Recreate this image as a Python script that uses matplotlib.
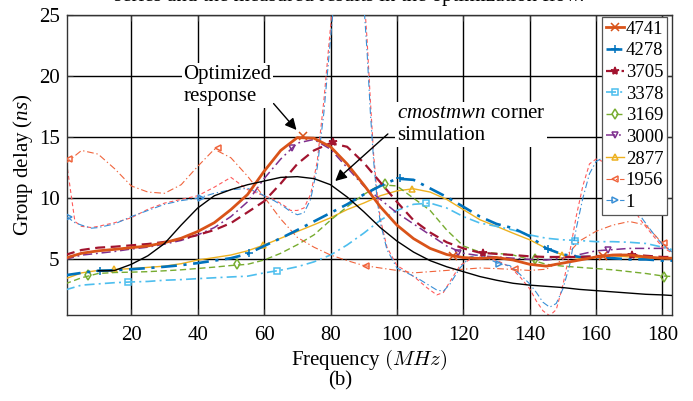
import matplotlib
matplotlib.use("Agg")
import matplotlib.pyplot as plt
from matplotlib.lines import Line2D

plt.rcParams['font.family'] = ['Liberation Serif', 'DejaVu Serif']
plt.rcParams['mathtext.fontset'] = 'custom'
plt.rcParams['mathtext.rm'] = 'Liberation Serif'
plt.rcParams['mathtext.it'] = 'Liberation Serif:italic'

# ---------------- data ----------------
freq = [0, 5, 10, 15, 20, 25, 30, 35, 40, 45, 50, 55, 60, 65, 70, 75, 80, 85, 90,
        95, 100, 105, 110, 115, 120, 125, 130, 135, 140, 145, 150, 155, 160, 165,
        170, 175, 180, 183]

gd_4741 = [5.1, 5.5, 5.7, 5.82, 5.96, 6.1, 6.37, 6.73, 7.28, 8.0, 9.07, 10.3, 12.2, 13.9,
           14.95, 14.9, 14.2, 12.8, 11.1, 9.3, 7.8, 6.7, 5.9, 5.4, 5.15, 5.08, 5.16, 4.95,
           4.6, 4.45, 4.7, 4.95, 5.2, 5.36, 5.36, 5.2, 5.1, 5.1]
gd_4278 = [3.7, 3.9, 4.07, 4.12, 4.2, 4.29, 4.4, 4.53, 4.7, 4.9, 5.1, 5.45, 6.1, 6.73,
           7.4, 8.1, 8.8, 9.5, 10.3, 11.0, 11.6, 11.5, 10.8, 10.1, 9.3, 8.5, 7.9, 7.55,
           6.9, 5.9, 5.4, 5.2, 5.2, 5.1, 5.0, 5.0, 4.9, 4.9]
gd_3705 = [5.36, 5.77, 5.96, 6.04, 6.15, 6.26, 6.43, 6.65, 7.0, 7.4, 7.97, 8.85, 9.75,
           11.2, 12.8, 13.9, 14.5, 14.2, 12.9, 11.3, 9.7, 8.2, 7.2, 6.4, 5.9, 5.55, 5.45,
           5.36, 5.25, 5.2, 5.2, 5.2, 5.27, 5.35, 5.4, 5.3, 5.2, 5.2]
gd_3378 = [2.5, 2.9, 3.0, 3.1, 3.16, 3.2, 3.3, 3.35, 3.43, 3.5, 3.57, 3.63, 3.9, 4.12,
           4.4, 4.8, 5.36, 6.18, 7.14, 8.2, 9.0, 9.5, 9.6, 9.2, 8.5, 7.97, 7.7, 7.4, 7.0,
           6.73, 6.6, 6.54, 6.45, 6.45, 6.4, 6.3, 6.0, 5.8]
gd_3169 = [3.0, 3.5, 3.85, 3.93, 3.96, 4.0, 4.07, 4.15, 4.26, 4.37, 4.5, 4.6, 4.95, 5.5,
           6.2, 7.0, 8.2, 9.3, 10.3, 11.1, 11.0, 10.0, 9.0, 7.4, 6.1, 5.6, 5.5, 5.36, 5.0,
           4.6, 4.45, 4.35, 4.25, 4.15, 4.0, 3.85, 3.65, 3.6]
gd_3000 = [5.0, 5.35, 5.5, 5.65, 5.85, 6.0, 6.25, 6.55, 7.0, 7.6, 8.5, 9.7, 11.6, 13.2,
           14.5, 14.8, 14.0, 12.5, 11.0, 9.9, 8.8, 7.9, 7.0, 6.1, 5.5, 5.3, 5.2, 5.1, 5.0,
           4.95, 5.1, 5.4, 5.7, 5.8, 5.9, 5.9, 5.9, 5.9]
gd_2877 = [3.4, 3.9, 4.1, 4.18, 4.25, 4.35, 4.45, 4.65, 4.95, 5.15, 5.36, 5.7, 6.18,
           6.73, 7.28, 7.83, 8.4, 9.07, 9.6, 10.2, 10.6, 10.77, 10.5, 9.9, 9.07, 8.24,
           7.7, 7.14, 6.6, 5.9, 5.36, 5.08, 5.16, 5.3, 5.2, 5.1, 5.1, 5.1]
gd_1956 = [12.8, 13.9, 13.6, 12.4, 11.0, 10.5, 10.4, 11.1, 12.6, 14.0, 13.3, 11.8, 10.1,
           8.3, 6.8, 6.0, 5.36, 4.9, 4.5, 4.3, 4.1, 3.9, 4.0, 4.1, 4.2, 4.3, 4.25, 4.18,
           4.1, 4.2, 5.0, 6.5, 7.3, 7.8, 8.1, 7.8, 6.3, 5.5]

# measured curve "1" (with resonance spikes) and the raw red measured trace
freq_1 = [0.5, 3, 5, 8, 10, 15, 20, 25, 30, 35, 40, 45, 50, 55, 58, 60, 63, 66, 68, 70,
          72, 74, 76, 78, 80, 81, 82, 89, 90, 91, 92, 93, 94, 95, 97, 100, 103, 106, 109,
          112, 114, 116, 119, 122, 125, 128, 131, 134, 137, 140, 142, 144, 146, 148,
          150, 152, 154, 156, 158, 160, 162, 165, 168, 171, 174, 177, 180, 183]
gd_1 = [8.5, 8.0, 7.8, 7.55, 7.6, 7.9, 8.5, 9.0, 9.5, 9.8, 10.0, 10.4, 10.7, 10.8, 10.5,
        10.2, 9.8, 9.3, 8.9, 8.65, 8.8, 9.9, 12.5, 17.0, 23.0, 26.0, 30.0, 30.0, 26.0,
        22.0, 17.0, 13.0, 10.0, 8.0, 5.8, 4.3, 3.9, 3.5, 3.0, 2.5, 2.4, 3.0, 4.3, 5.2,
        5.4, 5.0, 4.6, 4.5, 3.8, 3.0, 2.3, 1.5, 1.1, 1.4, 2.6, 4.5, 7.5, 10.0, 12.0,
        13.0, 13.3, 12.5, 11.0, 9.5, 8.3, 7.2, 6.2, 5.6]
gd_raw = [12.9, 8.1, 7.7, 7.6, 7.7, 8.0, 8.4, 9.1, 9.6, 9.9, 10.2, 10.9, 11.7, 10.7,
          10.4, 10.2, 9.9, 9.4, 9.0, 9.0, 9.2, 10.3, 13.0, 18.0, 24.0, 27.0, 30.0, 30.0,
          27.0, 23.0, 18.0, 13.5, 10.5, 8.3, 6.0, 4.5, 4.0, 3.4, 2.7, 2.1, 2.3, 3.2, 4.5,
          5.0, 5.2, 5.1, 4.8, 4.4, 3.6, 2.6, 1.6, 0.8, 0.4, 0.9, 2.9, 5.5, 8.5, 11.0,
          12.8, 13.2, 13.0, 12.0, 10.5, 9.2, 8.0, 7.0, 6.0, 5.5]

# cmostmwn corner simulation
freq_sim = [10, 13, 15, 20, 25, 30, 35, 40, 45, 50, 55, 60, 65, 70, 75, 80, 85, 90, 95,
            100, 105, 110, 115, 120, 125, 130, 135, 140, 145, 150, 155, 160, 165, 170,
            175, 180, 183]
gd_sim = [4.07, 4.07, 4.1, 4.6, 5.3, 6.3, 7.8, 9.2, 10.2, 10.7, 11.1, 11.4, 11.7, 11.76,
          11.6, 11.1, 10.1, 8.9, 7.6, 6.5, 5.6, 4.9, 4.4, 4.0, 3.6, 3.3, 3.05, 2.9, 2.8,
          2.7, 2.55, 2.45, 2.35, 2.25, 2.15, 2.1, 2.05]

# marker positions (frequency, group delay)
mk_4741 = ([71.8, 117, 162], [15.05, 5.3, 5.3])
mk_4278 = ([10.5, 55.5, 101, 145.5], [4.07, 5.5, 11.65, 5.85])
mk_3705 = ([80.6, 125.8, 170.7], [14.55, 5.5, 5.4])
mk_3378 = ([18.9, 63.8, 108.8, 153.5], [3.16, 4.07, 9.6, 6.54])
mk_3169 = ([6.8, 51.9, 96.5, 141.6, 180.6], [3.7, 4.6, 11.15, 5.05, 3.6])
mk_3000 = ([68.3, 118.5, 163.6], [14.1, 5.5, 5.77])
mk_2877 = ([14.9, 59.7, 104.4, 149.6], [4.18, 6.18, 10.77, 5.36])
mk_1956 = ([1.1, 46, 90.7, 135.5, 180.4], [13.2, 14.1, 4.45, 4.18, 6.3])
mk_1 = ([1.3, 41, 130.8], [8.5, 10.0, 4.6])

labels = ['4741', '4278', '3705', '3378', '3169', '3000', '2877', '1956', '1']
x_ticks = [20, 40, 60, 80, 100, 120, 140, 160, 180]
y_ticks = [5, 10, 15, 20, 25]

# ---------------- figure ----------------
fig = plt.figure(figsize=(6.93, 4.01), dpi=100)
ax = fig.add_axes([0.0961, 0.2157, 0.8733, 0.748])

DASH = (0, (4.5, 2.5))
DASHDOT = (0, (6, 2.5, 1.2, 2.5))

styles = [
    # x, y, markers, color, linestyle, lw, marker, filled
    (freq, gd_2877, mk_2877, '#EDB120', '-', 1.0, '^', False),
    (freq, gd_3169, mk_3169, '#77AC30', DASH, 1.0, 'd', False),
    (freq, gd_3378, mk_3378, '#4DBEEE', DASHDOT, 1.2, 's', False),
    (freq, gd_3000, mk_3000, '#7E2F8E', DASHDOT, 1.1, 'v', False),
    (freq, gd_1956, mk_1956, '#F0643C', DASHDOT, 0.8, '<', False),
    (freq_1, gd_1, mk_1, '#3A8FD6', DASHDOT, 0.8, '>', False),
    (freq, gd_4278, mk_4278, '#0072BD', DASHDOT, 1.9, '+', True),
    (freq, gd_3705, mk_3705, '#A2142F', DASH, 1.6, '*', True),
    (freq, gd_4741, mk_4741, '#D95319', '-', 2.0, 'x', True),
]
leg_order = {'#D95319': 0, '#0072BD': 1, '#A2142F': 2, '#4DBEEE': 3, '#77AC30': 4,
             '#7E2F8E': 5, '#EDB120': 6, '#F0643C': 7, '#3A8FD6': 8}

# raw measured trace (unlabelled)
ax.plot(freq_1, gd_raw, color='#FF5A5A', lw=0.8, linestyle=(0, (3.5, 2.5)), zorder=2)

handles = [None] * 9
for i, (fx, fy, mk, col, ls, lw, m, filled) in enumerate(styles):
    ax.plot(fx, fy, color=col, lw=lw, linestyle=ls, zorder=3 + i)
    ms = 6 if m in ('+', 'x', '*') else 5
    ax.plot(mk[0], mk[1], linestyle='none', marker=m, color=col, ms=ms,
            mew=1.1, fillstyle='full' if filled else 'none', zorder=3 + i)
    handles[leg_order[col]] = Line2D([], [], color=col, lw=lw, linestyle=ls, marker=m,
                                     ms=ms, mew=1.1,
                                     fillstyle='full' if filled else 'none')

ax.plot(freq_sim, gd_sim, color='black', lw=1.0, zorder=14)

ax.set_xlim(0.5, 182.8)
ax.set_ylim(0.5, 25)
ax.set_xticks(x_ticks)
ax.set_yticks(y_ticks)
ax.grid(True, color='black', lw=1.0)
ax.set_axisbelow(True)
ax.tick_params(direction='in', top=True, right=True, labelsize=15, length=4,
               color='#333333')
ax.tick_params(axis='x', pad=8)
ax.tick_params(axis='y', pad=5)
for s in ax.spines.values():
    s.set_color('#333333')
    s.set_linewidth(1.0)

ax.set_xlabel('Frequency $(MHz)$', fontsize=15, labelpad=2, math_fontfamily='cm')
ax.set_ylabel('Group delay ($\\mathit{ns}$)', fontsize=15, labelpad=3)

leg = ax.legend(handles, labels, loc='upper right', bbox_to_anchor=(0.992, 0.992),
                borderaxespad=0, fontsize=13.5, handlelength=0.95, handletextpad=0.1,
                labelspacing=0.24, borderpad=0.2, fancybox=False, framealpha=1,
                edgecolor='#555555')
leg.get_frame().set_linewidth(0.9)
leg.set_zorder(30)

bb = dict(facecolor='white', edgecolor='none', pad=1.0)
ax.text(35.6, 20.9, 'Optimized\nresponse', fontsize=15, ha='left', va='top',
        linespacing=1.25, bbox=bb, zorder=25)
ax.annotate('', xy=(70.3, 15.4), xytext=(62.3, 17.9),
            arrowprops=dict(arrowstyle='-|>', color='black', lw=1.0, mutation_scale=17),
            zorder=26)
ax.text(100.0, 17.7, '$\\mathit{cmostmwn}$ corner\nsimulation', fontsize=15,
        ha='left', va='top', linespacing=1.25, bbox=bb, zorder=25)
ax.annotate('', xy=(80.8, 11.25), xytext=(97.9, 15.4),
            arrowprops=dict(arrowstyle='-|>', color='black', lw=1.0, mutation_scale=17),
            zorder=26)

fig.text(340 / 693, 1 - 381 / 401, '(b)', fontsize=15, ha='center', va='center')
fig.text(349 / 693, 1 - 1.0 / 401, 'series and the measured results in the optimization flow.',
         fontsize=15, ha='center', va='baseline')

fig.savefig('out.png', dpi=100)
